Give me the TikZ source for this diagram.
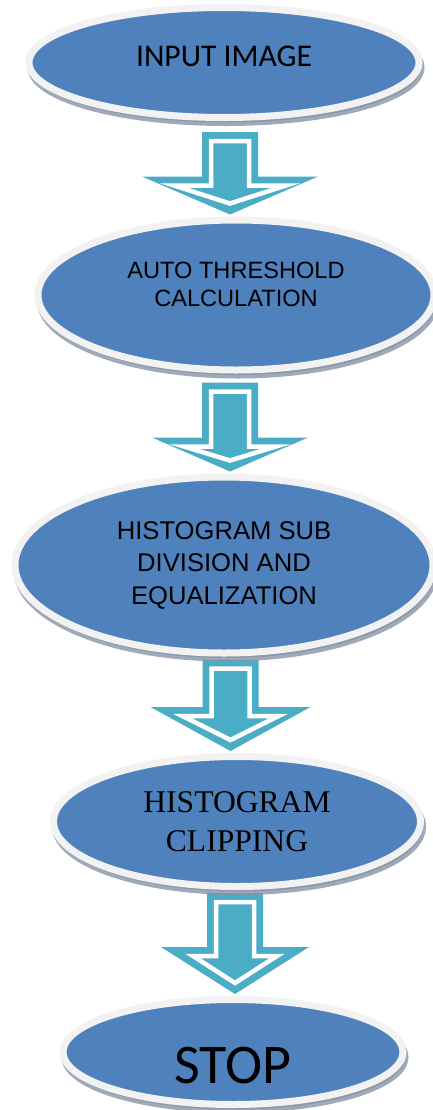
\documentclass[tikz,border=0pt]{standalone}
\usepackage{fontspec}
\newfontfamily\calibrifont{Carlito}
\newfontfamily\arialfont{Liberation Sans}
\newfontfamily\timesfont{Liberation Serif}
\usetikzlibrary{shapes.geometric,shadows,calc,backgrounds}
\definecolor{stageblue}{RGB}{79,129,189}
\definecolor{rimgray}{RGB}{242,242,242}
\definecolor{shadegray}{RGB}{135,148,166}
\definecolor{flowcyan}{RGB}{75,172,198}
\tikzset{
  stage/.style={ellipse, fill=stageblue, draw=rimgray, line width=3.5pt, inner sep=0pt, align=center,
    drop shadow={shadow xshift=1pt, shadow yshift=-2.5pt, fill=shadegray, draw=shadegray, line width=3.5pt, opacity=.8}},
  flowfill/.style={fill=flowcyan},
  flowline/.style={draw=white, line width=2.25pt}
}
\begin{document}
\begin{tikzpicture}[x=0.5pt,y=-0.5pt]
\useasboundingbox (0,0) rectangle (433,1110);
% the five stages, pixel coordinates
\node[stage, minimum width=195pt, minimum height=55pt, font=\calibrifont\fontsize{15.8}{19}\selectfont]
  (inp) at (224,62.5) {INPUT IMAGE\rule[-6pt]{0pt}{6pt}};
\node[stage, minimum width=198pt, minimum height=75pt, font=\arialfont\fontsize{11.8}{14}\selectfont]
  (thr) at (236,295) {AUTO THRESHOLD\\CALCULATION\rule[-11pt]{0pt}{11pt}};
\node[stage, minimum width=209pt, minimum height=88pt, font=\arialfont\fontsize{12.8}{16.25}\selectfont]
  (sub) at (224,565) {HISTOGRAM SUB\\DIVISION AND\\EQUALIZATION};
\node[stage, minimum width=183.5pt, minimum height=65pt, font=\timesfont\fontsize{15.8}{19.5}\selectfont]
  (clip) at (237,821.5) {HISTOGRAM\\CLIPPING};
\node[stage, minimum width=170pt, minimum height=52.5pt, font=\calibrifont\fontsize{28}{32}\selectfont]
  (stop) at (233,1052) {\rule{0pt}{31.5pt}STOP};
% block arrows: gap below source, head half width, head height (px)
\begin{pgfonlayer}{background}
\foreach \src/\dst/\g/\hw/\hh in {inp/thr/11/88/38, thr/sub/9/78/34, sub/clip/3/80/44, clip/stop/3/74/47}{
  \coordinate (m) at ($(\src.center)!.5!(\dst.center)$);
  \coordinate (t) at ($(m |- \src.south)+(0,\g)$);
  \coordinate (p) at ($(m |- \dst.north)+(0,-2)$);
  \fill[flowfill] let \p1=(t), \p2=(p) in
    (\x1-14pt,\y1) -- (\x1+14pt,\y1) -- (\x1+14pt,\y2+\hh*0.5pt) -- (\x1+\hw*0.5pt,\y2+\hh*0.5pt)
    -- (\x1,\y2) -- (\x1-\hw*0.5pt,\y2+\hh*0.5pt) -- (\x1-14pt,\y2+\hh*0.5pt) -- cycle;
  \draw[flowline] let \p1=(t), \p2=(p) in
    (\x1-9.5pt,\y1-4.5pt) -- (\x1+9.5pt,\y1-4.5pt) -- (\x1+9.5pt,\y2+\hh*0.5pt-4.5pt)
    -- (\x1+\hw*0.5pt-16pt,\y2+\hh*0.5pt-4.5pt) -- (\x1,\y2+5.5pt)
    -- (\x1-\hw*0.5pt+16pt,\y2+\hh*0.5pt-4.5pt) -- (\x1-9.5pt,\y2+\hh*0.5pt-4.5pt) -- cycle;
}
\end{pgfonlayer}
\end{tikzpicture}
\end{document}
